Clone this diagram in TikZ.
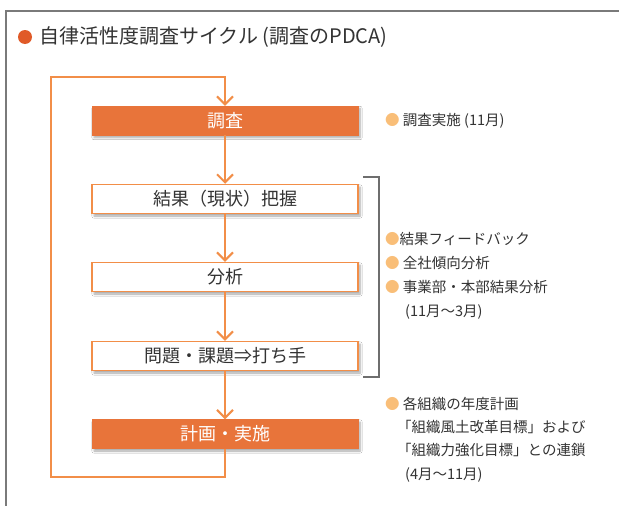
\documentclass[tikz,border=0pt]{standalone}
\usepackage{fontspec}
\setmainfont{Noto Sans CJK JP}
\usetikzlibrary{arrows.meta,shadows.blur}
\definecolor{boxorange}{HTML}{E8743A}
\definecolor{lineorange}{HTML}{F28E48}
\definecolor{titledot}{HTML}{E05A28}
\definecolor{lightdot}{HTML}{F9BE78}
\definecolor{txt}{HTML}{333333}
\definecolor{frame}{HTML}{7A7A7A}
\begin{document}
\begin{tikzpicture}[x=1pt,y=-1pt,
  stepbox/.style={minimum width=266pt,minimum height=29pt,inner sep=0pt,
    font=\fontsize{18pt}{21pt}\selectfont,
    blur shadow={shadow xshift=2pt,shadow yshift=-2.5pt,shadow blur steps=6,shadow opacity=35}},
  filledbox/.style={stepbox,fill=boxorange,draw=boxorange,text=white},
  whitebox/.style={stepbox,fill=white,draw=lineorange,line width=1.5pt,text=txt},
  flow/.style={draw=lineorange,line width=2pt,-{Straight Barb[length=8pt,width=16pt,line width=2pt]}},
  note/.style={anchor=west,inner sep=0pt,text=txt,font=\fontsize{14.5pt}{17pt}\selectfont},
  bracket/.style={draw=frame!90!black,line width=1.2pt}
]
\useasboundingbox (0,0) rectangle (619,506);
\fill[white] (0,0) rectangle (619,506);
% frame
\coordinate (fbl) at (6,506);
\coordinate (ftl) at (6,11);
\coordinate (ftr) at (619,11);
\draw[frame,line width=1.3pt] (fbl) -- (ftl) -- (ftr);
% title
\node[circle,fill=titledot,minimum size=14pt,inner sep=0pt] (tdot) at (25,37) {};
\node[anchor=west,inner sep=0pt,text=txt,font=\fontsize{20pt}{24pt}\selectfont] (title) at (39,37) {自律活性度調査サイクル (調査のPDCA)};
% boxes
\node[filledbox] (b1) at (225,120.5) {調査};
\node[whitebox] (b2) at (225,199) {結果（現状）把握};
\node[whitebox] (b3) at (225,277) {分析};
\node[whitebox] (b4) at (225,356) {問題・課題⇒打ち手};
\node[filledbox] (b5) at (225,434) {計画・実施};
% arrows
\draw[flow] (b1.south) -- (b2.north);
\draw[flow] (b2.south) -- (b3.north);
\draw[flow] (b3.south) -- (b4.north);
\draw[flow] (b4.south) -- (b5.north);
\coordinate (lb) at (225,477);
\coordinate (lbl) at (51,477);
\coordinate (ltl) at (51,77);
\coordinate (ltr) at (225,77);
\draw[flow,line join=miter] (b5.south) -- (lb) -- (lbl) -- (ltl) -- (ltr) -- (b1.north);
% bracket
\coordinate (bt1) at (363,177);
\coordinate (bt2) at (379,177);
\coordinate (bb2) at (379,377);
\coordinate (bb1) at (363,377);
\draw[bracket] (bt1) -- (bt2) -- (bb2) -- (bb1);
% notes
\node[note] (n1) at (385,121) {\textcolor{lightdot}{●} 調査実施 (11月)};
\node[note] (n2) at (385,239) {\textcolor{lightdot}{●}結果フィードバック};
\node[note] (n3) at (385,263) {\textcolor{lightdot}{●} 全社傾向分析};
\node[note] (n4) at (385,287) {\textcolor{lightdot}{●} 事業部・本部結果分析};
\node[note] (n5) at (405,312) {(11月〜3月)};
\node[note] (n6) at (385,404) {\textcolor{lightdot}{●} 各組織の年度計画};
\node[note] (n7) at (397,427) {「組織風土改革目標」および};
\node[note] (n8) at (397,450) {「組織力強化目標」との連鎖};
\node[note] (n9) at (405,475) {(4月〜11月)};
\end{tikzpicture}
\end{document}
